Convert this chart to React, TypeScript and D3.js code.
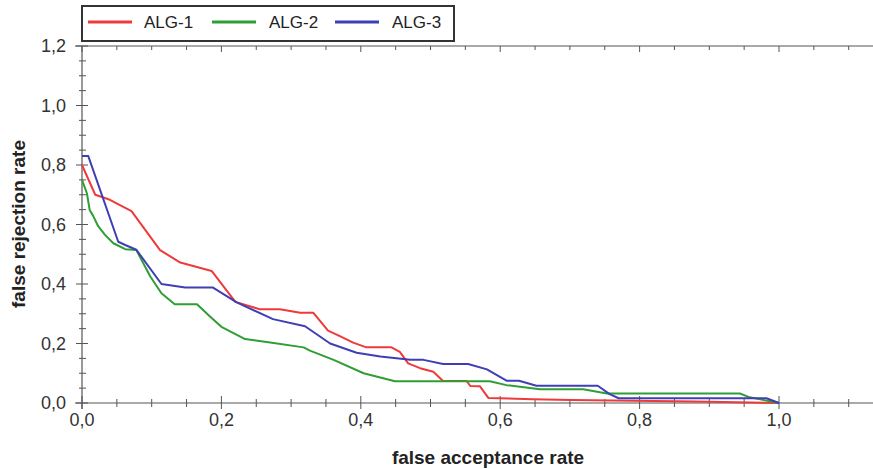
import React from "react";
import * as d3 from "d3";

const seriesNames = ["ALG-1", "ALG-2", "ALG-3"];
const seriesColors = ["#ee3a3a", "#2f9e34", "#3f3fb5"];

const alg1X = [0, 0.019, 0.038, 0.071, 0.112, 0.141, 0.186, 0.22, 0.255, 0.284, 0.313, 0.332, 0.353, 0.37, 0.389, 0.408, 0.444, 0.456, 0.468, 0.485, 0.504, 0.518, 0.552, 0.557, 0.571, 0.583, 0.647, 0.702, 0.76, 0.88, 1.0];
const alg1Y = [0.8, 0.7, 0.685, 0.645, 0.514, 0.472, 0.444, 0.34, 0.315, 0.315, 0.303, 0.303, 0.243, 0.225, 0.203, 0.187, 0.187, 0.172, 0.133, 0.117, 0.105, 0.074, 0.074, 0.057, 0.056, 0.017, 0.013, 0.01, 0.008, 0.005, 0];

const alg2X = [0, 0.007, 0.011, 0.016, 0.023, 0.033, 0.045, 0.062, 0.078, 0.098, 0.114, 0.133, 0.165, 0.184, 0.2, 0.234, 0.27, 0.318, 0.327, 0.361, 0.404, 0.449, 0.585, 0.609, 0.657, 0.719, 0.753, 0.944, 0.958, 1.0];
const alg2Y = [0.75, 0.705, 0.649, 0.629, 0.595, 0.565, 0.537, 0.517, 0.514, 0.425, 0.369, 0.332, 0.332, 0.29, 0.256, 0.215, 0.203, 0.187, 0.176, 0.145, 0.1, 0.073, 0.073, 0.06, 0.046, 0.046, 0.032, 0.032, 0.019, 0];

const alg3X = [0, 0.009, 0.052, 0.062, 0.078, 0.114, 0.148, 0.188, 0.222, 0.274, 0.32, 0.356, 0.394, 0.428, 0.471, 0.49, 0.518, 0.554, 0.581, 0.609, 0.627, 0.652, 0.74, 0.757, 0.77, 0.982, 1.0];
const alg3Y = [0.83, 0.83, 0.542, 0.531, 0.515, 0.4, 0.388, 0.388, 0.338, 0.282, 0.258, 0.2, 0.169, 0.156, 0.145, 0.145, 0.131, 0.131, 0.113, 0.075, 0.075, 0.058, 0.058, 0.03, 0.016, 0.016, 0];

const xTickLabels = ["0,0", "0,2", "0,4", "0,6", "0,8", "1,0"];
const yTickLabels = ["0,0", "0,2", "0,4", "0,6", "0,8", "1,0", "1,2"];

const W = 873;
const H = 469;

export default function App() {
  const x = d3.scaleLinear().domain([0, 1]).range([82, 779]);
  const y = d3.scaleLinear().domain([0, 1.2]).range([403, 46]);
  const xMax = x.invert(872);

  const line = d3
    .line<[number, number]>()
    .x((d) => x(d[0]))
    .y((d) => y(d[1]));

  const series = [
    d3.zip(alg1X, alg1Y) as [number, number][],
    d3.zip(alg2X, alg2Y) as [number, number][],
    d3.zip(alg3X, alg3Y) as [number, number][],
  ];

  const xMinor = d3.range(0, xMax, 0.05);
  const yMinor = d3.range(0, 1.2001, 0.05);
  const isMajor = (v: number) => Math.abs(v / 0.2 - Math.round(v / 0.2)) < 1e-6;

  const axisColor = "#555";
  const legendItems = [
    { lx: 88, tx: 144 },
    { lx: 212, tx: 269 },
    { lx: 335, tx: 392 },
  ];

  return (
    <svg
      width={W}
      height={H}
      style={{ position: "absolute", left: 0, top: 0, background: "#fff" }}
      fontFamily="Liberation Sans, Arial, sans-serif"
    >
      {/* top axis */}
      <line x1={75} x2={W} y1={y(1.2)} y2={y(1.2)} stroke={axisColor} strokeWidth={1.2} />
      {xMinor.map((v, i) => (
        <line key={"tt" + i} x1={x(v)} x2={x(v)} y1={y(1.2)} y2={y(1.2) + (isMajor(v) ? 6 : 4)} stroke={axisColor} strokeWidth={1} />
      ))}
      {/* bottom axis */}
      <line x1={75} x2={W} y1={y(0)} y2={y(0)} stroke={axisColor} strokeWidth={1.2} />
      {xMinor.map((v, i) => (
        <line key={"bt" + i} x1={x(v)} x2={x(v)} y1={y(0) - (isMajor(v) ? 7 : 4)} y2={y(0) + (isMajor(v) ? 6 : 4)} stroke={axisColor} strokeWidth={1} />
      ))}
      {/* left axis */}
      <line x1={x(0)} x2={x(0)} y1={y(1.2)} y2={y(0) + 6} stroke={axisColor} strokeWidth={1.2} />
      {yMinor.map((v, i) => (
        <line key={"lt" + i} x1={x(0) - (isMajor(v) ? 6 : 3)} x2={x(0) + (isMajor(v) ? 6 : 4)} y1={y(v)} y2={y(v)} stroke={axisColor} strokeWidth={1} />
      ))}
      {xTickLabels.map((t, i) => (
        <text key={"xl" + i} x={x(i * 0.2)} y={y(0) + 23} textAnchor="middle" fontSize={18} fill="#333">
          {t}
        </text>
      ))}
      {yTickLabels.map((t, i) => (
        <text key={"yl" + i} x={x(0) - 16} y={y(i * 0.2) + 6} textAnchor="end" fontSize={18} fill="#333">
          {t}
        </text>
      ))}
      <text x={488} y={464} textAnchor="middle" fontSize={19} fontWeight="bold" fill="#222">
        false acceptance rate
      </text>
      <text transform={`translate(25,${224}) rotate(-90)`} textAnchor="middle" fontSize={19} fontWeight="bold" fill="#222">
        false rejection rate
      </text>
      {/* curves */}
      {series.map((s, i) => (
        <path key={"s" + i} d={line(s) || ""} fill="none" stroke={seriesColors[i]} strokeWidth={2} strokeLinejoin="round" />
      ))}
      {/* legend */}
      <rect x={82} y={6} width={372} height={35} fill="#fff" stroke="#333" strokeWidth={2} />
      {seriesNames.map((n, i) => (
        <g key={"lg" + i}>
          <line x1={legendItems[i].lx} x2={legendItems[i].lx + 44} y1={22} y2={22} stroke={seriesColors[i]} strokeWidth={3} />
          <text x={legendItems[i].tx} y={28} fontSize={17} fill="#222">
            {n}
          </text>
        </g>
      ))}
    </svg>
  );
}
